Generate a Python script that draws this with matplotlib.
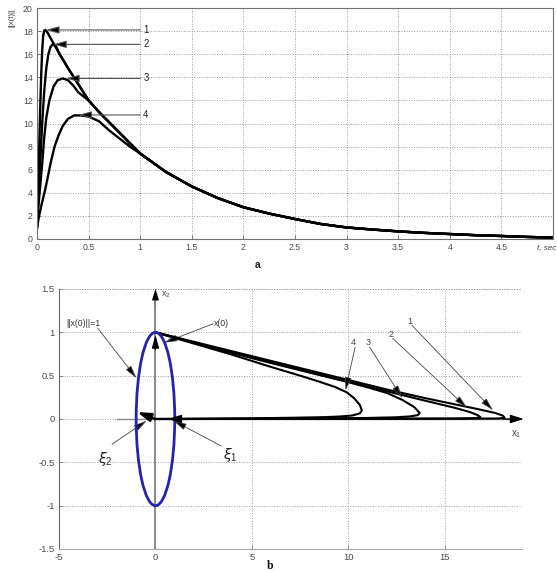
import matplotlib
matplotlib.use("Agg")
import matplotlib.pyplot as plt
from matplotlib.patches import Ellipse

plt.rcParams['font.family'] = ['Liberation Sans', 'DejaVu Sans']

# ---------------- data: panel a (||x(t)||) ----------------
t1 = [0, 0.01, 0.02, 0.03, 0.04, 0.05, 0.06, 0.07, 0.08, 0.1, 0.15, 0.2, 0.3, 0.4]
y1 = [1, 4, 7.5, 11, 14, 16.3, 17.6, 18.05, 18.1, 17.9, 17.1, 16.3, 14.8, 13.4]
t2 = [0, 0.01, 0.03, 0.05, 0.07, 0.09, 0.11, 0.13, 0.15, 0.18, 0.22, 0.3, 0.4]
y2 = [1, 2.8, 6.5, 10, 12.8, 14.8, 16.0, 16.6, 16.85, 16.75, 16.0, 14.8, 13.4]
t3 = [0, 0.01, 0.03, 0.05, 0.07, 0.09, 0.12, 0.16, 0.2, 0.25, 0.3, 0.35, 0.4]
y3 = [1, 2.5, 4.5, 6.5, 8.8, 10.5, 12.0, 13.2, 13.75, 13.9, 13.75, 13.3, 12.7]
t_mid = [0.5, 0.6, 0.7, 0.8, 0.9]
y_mid = [12.0, 11.0, 10.1, 9.2, 8.3]
t4 = [0, 0.02, 0.05, 0.08, 0.11, 0.13, 0.17, 0.21, 0.25, 0.3, 0.36, 0.42, 0.5, 0.6, 0.7, 0.8, 0.9]
y4 = [1, 2.0, 3.2, 4.3, 5.6, 6.5, 8.0, 9.0, 9.8, 10.4, 10.7, 10.7, 10.6, 10.2, 9.4, 8.7, 8.0]
t_tail = [1.0, 1.25, 1.5, 1.75, 2.0, 2.25, 2.5, 2.75, 3.0, 3.25, 3.5, 3.75, 4.0, 4.25, 4.5, 4.75, 5.0]
y_tail = [7.4, 5.8, 4.55, 3.55, 2.75, 2.2, 1.73, 1.3, 1.0, 0.82, 0.66, 0.53, 0.43, 0.33, 0.26, 0.18, 0.12]
peak_t = [0.085, 0.155, 0.28, 0.40]
peak_y = [18.1, 16.85, 13.9, 10.74]
curve_labels = ['1', '2', '3', '4']
xticks_a = [0, 0.5, 1, 1.5, 2, 2.5, 3, 3.5, 4, 4.5, 5]
xticklabels_a = ['0', '0.5', '1', '1.5', '2', '2.5', '3', '3.5', '4', '4.5', '']
yticks_a = [0, 2, 4, 6, 8, 10, 12, 14, 16, 18, 20]

# ---------------- data: panel b (phase plane) ----------------
p1_x1 = [0, 2, 4, 6, 8, 10, 12, 14, 15.5, 16.8, 17.6, 18.0, 18.1, 17.8, 16, 12, 8, 4, 1, 0]
p1_x2 = [1, 0.89, 0.78, 0.67, 0.56, 0.45, 0.34, 0.24, 0.17, 0.11, 0.07, 0.04, 0.015, 0.006, 0.003, 0.002, 0.001, 0.001, 0, 0]
p2_x1 = [0, 2, 4, 6, 8, 10, 12, 14, 15.5, 16.3, 16.7, 16.85, 16.6, 15.5, 12, 8, 4, 1, 0]
p2_x2 = [1, 0.885, 0.77, 0.655, 0.54, 0.43, 0.32, 0.21, 0.13, 0.08, 0.045, 0.02, 0.01, 0.006, 0.004, 0.002, 0.001, 0, 0]
p3_x1 = [0, 2, 4, 6, 8, 9, 10, 11, 12, 12.8, 13.4, 13.7, 13.6, 13.2, 12.5, 11, 9, 6, 3, 0]
p3_x2 = [1, 0.88, 0.76, 0.645, 0.535, 0.48, 0.425, 0.365, 0.3, 0.22, 0.14, 0.07, 0.045, 0.03, 0.02, 0.012, 0.008, 0.004, 0.002, 0]
p4_x1 = [0, 2, 4, 6, 7.5, 8.5, 9.3, 9.9, 10.3, 10.6, 10.7, 10.6, 10.2, 9.5, 8.5, 7, 5, 3, 0]
p4_x2 = [1, 0.87, 0.74, 0.6, 0.5, 0.43, 0.37, 0.31, 0.24, 0.16, 0.1, 0.065, 0.04, 0.028, 0.02, 0.014, 0.008, 0.004, 0]
lab_b_pos = [(13.2, 1.13), (12.2, 0.98), (11.0, 0.88), (10.25, 0.88)]
lab_b_tip = [(17.5, 0.10), (16.15, 0.13), (12.8, 0.24), (9.85, 0.33)]
xticks_b = [-5, 0, 5, 10, 15]
xticklabels_b = ['-5', '0', '5', '10', '15']
yticks_b = [-1.5, -1, -0.5, 0, 0.5, 1, 1.5]
yticklabels_b = ['-1.5', '-1', '-0.5', '0', '0.5', '1', '1.5']

W, H = 557, 571
fig = plt.figure(figsize=(W / 100, H / 100), dpi=100)

grid_kw = dict(color='#9a9a9a', linestyle=(0, (1, 1.6)), linewidth=0.7)
tick_col = '#4a4a4a'

# ================= panel a =================
ax1 = fig.add_axes([37 / W, 1 - 239 / H, 516 / W, 231 / H])
lw = 1.7
ax1.plot(t1 + t_mid + t_tail, y1 + y_mid + y_tail, color='k', lw=lw)
ax1.plot(t2 + t_mid + t_tail, y2 + y_mid + y_tail, color='k', lw=lw)
ax1.plot(t3 + t_mid + t_tail, y3 + y_mid + y_tail, color='k', lw=lw)
ax1.plot(t4 + t_tail, y4 + y_tail, color='k', lw=lw)
for lab, pt, py in zip(curve_labels, peak_t, peak_y):
    ax1.annotate('', xy=(pt, py), xytext=(1.0, py),
                 arrowprops=dict(arrowstyle='-|>,head_length=0.8,head_width=0.22',
                                 edgecolor='#555555', facecolor='k', lw=0.8,
                                 shrinkA=0, shrinkB=0))
    ax1.text(1.03, py, lab, ha='left', va='center', fontsize=7, color='#222222')
ax1.set_xlim(0, 5)
ax1.set_ylim(0, 20)
ax1.set_xticks(xticks_a)
ax1.set_xticklabels(xticklabels_a)
ax1.set_yticks(yticks_a)
ax1.grid(True, **grid_kw)
ax1.tick_params(direction='in', length=3, width=0.6, colors='#666666',
                labelcolor=tick_col, labelsize=6.3, pad=3)
for s in ax1.spines.values():
    s.set_color('#707070')
    s.set_linewidth(0.8)
fig.text(12 / W, 1 - 18 / H, '||x(t)||', rotation=90, ha='center', va='center',
         fontsize=5.5, color='#333333')
fig.text(537 / W, 1 - 249 / H, 't, sec', ha='left', va='center', fontsize=5.8,
         style='italic', color='#444444')
fig.text(258 / W, 1 - 265 / H, 'a', ha='center', va='center', fontsize=7.5,
         fontweight='bold', color='#222222')

# ================= panel b =================
ax2 = fig.add_axes([59 / W, 1 - 549 / H, 463 / W, 260 / H])
ax2.set_xlim(-5, 19)
ax2.set_ylim(-1.5, 1.5)
ax2.set_xticks(xticks_b)
ax2.set_xticklabels(xticklabels_b)
ax2.set_yticks(yticks_b)
ax2.set_yticklabels(yticklabels_b)
ax2.grid(True, **grid_kw)
ax2.tick_params(direction='in', length=3, width=0.6, colors='#777777',
                labelcolor=tick_col, labelsize=6.8, pad=3)
ax2.spines['top'].set_visible(False)
ax2.spines['right'].set_visible(False)
ax2.spines['left'].set_color('#666666')
ax2.spines['bottom'].set_color('#aaaaaa')
ax2.axhline(1.5, **grid_kw)

# axis arrows
ax2.plot([0, 0], [-1.5, 1.42], color='#8a8a8a', lw=1.4, zorder=2)
ax2.annotate('', xy=(0, 1.5), xytext=(0, 1.3),
             arrowprops=dict(arrowstyle='-|>,head_length=0.8,head_width=0.25',
                             color='k', lw=0.1, shrinkA=0, shrinkB=0), annotation_clip=False)
ax2.plot([-2, 18.7], [0, 0], color='#8a8a8a', lw=1.0, zorder=2)
ax2.annotate('', xy=(19.1, 0), xytext=(18.0, 0),
             arrowprops=dict(arrowstyle='-|>,head_length=0.8,head_width=0.25',
                             color='k', lw=1.0, shrinkA=0, shrinkB=0), annotation_clip=False)
ax2.text(0.3, 1.43, r'x$_\mathregular{2}$', fontsize=6.5, color='#444444', ha='left', va='center')
ax2.text(18.45, -0.17, r'x$_\mathregular{1}$', fontsize=7, color='#444444', ha='left', va='center')

# trajectories
for xs, ys in [(p1_x1, p1_x2), (p2_x1, p2_x2), (p3_x1, p3_x2), (p4_x1, p4_x2)]:
    ax2.plot(xs, ys, color='k', lw=1.5, zorder=4)

# unit circle ||x(0)|| = 1
ax2.add_patch(Ellipse((0, 0), 2, 2, fill=False, edgecolor='#2323b0', lw=2.0, zorder=5))

# eigenvector arrows
ax2.annotate('', xy=(-0.95, 0.08), xytext=(0, 0),
             arrowprops=dict(arrowstyle='-|>,head_length=0.8,head_width=0.25',
                             color='k', lw=1.8, shrinkA=0, shrinkB=0), zorder=6)
ax2.annotate('', xy=(0.65, 0), xytext=(1.05, 0),
             arrowprops=dict(arrowstyle='-|>,head_length=0.8,head_width=0.25',
                             color='k', lw=1.0, shrinkA=0, shrinkB=0), zorder=6)
ax2.annotate('', xy=(0, 0.97), xytext=(0, 0.8),
             arrowprops=dict(arrowstyle='-|>,head_length=0.8,head_width=0.22',
                             color='k', lw=0.8, shrinkA=0, shrinkB=0), zorder=6)

thin = dict(arrowstyle='-|>,head_length=0.8,head_width=0.2', edgecolor='#444444',
            facecolor='k', lw=0.6, shrinkA=0, shrinkB=0)
# annotations
ax2.text(-4.6, 1.1, '||x(0)||=1', fontsize=6.3, color='#333333', ha='left', va='center')
ax2.annotate('', xy=(-0.98, 0.47), xytext=(-3.0, 1.05), arrowprops=thin)
ax2.text(3.05, 1.1, 'x(0)', fontsize=6.3, color='#333333', ha='left', va='center')
ax2.annotate('', xy=(0.45, 0.88), xytext=(3.0, 1.1), arrowprops=thin)
ax2.text(-2.6, -0.46, r'$\xi_\mathregular{2}$', fontsize=10, color='#222222', ha='center', va='center')
ax2.annotate('', xy=(-0.45, -0.02), xytext=(-2.25, -0.29), arrowprops=thin)
ax2.text(3.9, -0.42, r'$\xi_\mathregular{1}$', fontsize=10, color='#222222', ha='center', va='center')
ax2.annotate('', xy=(0.93, -0.02), xytext=(3.4, -0.31), arrowprops=thin)
for lab, (lx, ly), (tx, ty) in zip(curve_labels, lab_b_pos, lab_b_tip):
    ax2.annotate('', xy=(tx, ty), xytext=(lx + 0.1, ly - 0.05), arrowprops=thin, zorder=7)
    ax2.text(lx, ly, lab, fontsize=6.5, color='#444444', ha='center', va='center')

fig.text(270 / W, 1 - 566 / H, 'b', ha='center', va='center', fontsize=8.5,
         fontweight='bold', family='Liberation Serif', color='#111111')

fig.savefig('out.png', dpi=100)
